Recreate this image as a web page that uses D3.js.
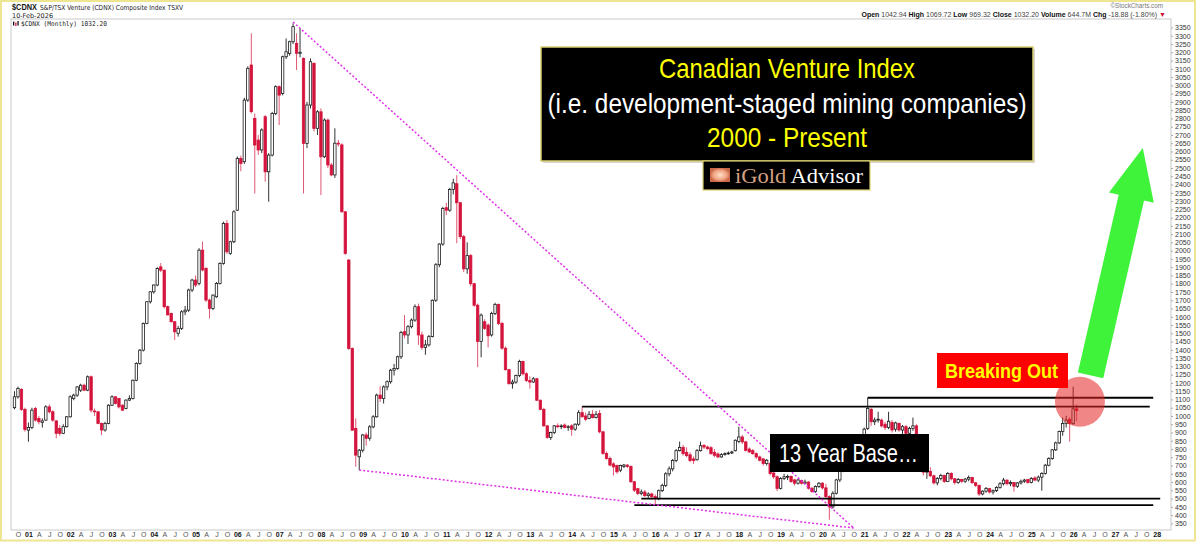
<!DOCTYPE html>
<html><head><meta charset="utf-8">
<script src="https://cdn.jsdelivr.net/npm/d3@7"></script>
<style>
html,body{margin:0;padding:0;background:#fff;}
svg{display:block;}
</style></head><body>
<svg id="c" width="1199" height="542" font-family="Liberation Sans, Arial, sans-serif"></svg>
<script>
// ---------- DATA: monthly candles [open, high, low, close], first candle = Sep 2000 ----------
const FIRST_YEAR = 2000, FIRST_MONTH = 8; // 0-based month (Sep)
const Y2000 = [[1050,1150,1040,1116],[1116,1177,1105,1166],[1160,1168,1030,1040],[1040,1050,905,918]];
const Y2001 = [[914,960,844,930],[930,1050,920,1035],[1045,1055,965,975],[985,1000,950,965],[960,985,930,970],[975,1065,970,1055],[1055,1070,1015,1025],[1025,1035,965,975],[970,975,865,895],[925,945,880,895],[895,950,890,935],[935,1000,930,995]];
const Y2002 = [[995,1125,990,1116],[1106,1135,1095,1126],[1126,1180,1115,1176],[1156,1195,1145,1186],[1186,1195,1150,1156],[1156,1245,1150,1237],[1237,1245,1020,1035],[1030,1045,1000,1025],[1025,1030,950,955],[955,960,884,915],[915,965,905,955],[955,1070,950,1065]];
const Y2003 = [[1065,1125,1060,1116],[1116,1120,1070,1076],[1106,1110,1045,1055],[1065,1070,1030,1035],[1045,1100,1040,1096],[1096,1125,1090,1106],[1106,1220,1100,1216],[1216,1325,1210,1318],[1318,1405,1310,1398],[1398,1565,1390,1560],[1560,1695,1555,1691],[1691,1755,1680,1751]];
const Y2004 = [[1751,1795,1740,1792],[1792,1900,1785,1892],[1902,1925,1870,1882],[1882,1885,1650,1661],[1661,1668,1610,1611],[1620,1625,1565,1570],[1570,1575,1459,1509],[1500,1545,1480,1530],[1530,1640,1520,1630],[1630,1665,1610,1640],[1640,1770,1630,1762],[1762,1830,1750,1822]];
const Y2005 = [[1822,1850,1780,1792],[1802,2015,1790,2003],[2003,2054,1875,1883],[1893,1900,1690,1701],[1701,1710,1590,1651],[1650,1735,1640,1731],[1721,1810,1715,1802],[1802,1930,1795,1923],[1923,2175,1915,2165],[2165,2185,1980,1993],[1983,2060,1975,2054],[2054,2245,2045,2235]];
const Y2006 = [[2245,2570,2240,2558],[2558,2575,2480,2528],[2538,2925,2525,2911],[2911,3115,2900,3103],[3123,3315,2830,2841],[2800,2830,2346,2639],[2669,2700,2580,2609],[2609,2740,2590,2730],[2810,2820,2417,2477],[2477,2590,2296,2578],[2578,2840,2570,2830],[2830,3000,2820,2992]];
const Y2007 = [[2992,3000,2760,2941],[2951,3180,2940,3173],[3173,3284,3160,3203],[3193,3270,3180,3264],[3264,3375,3250,3355],[3254,3315,3093,3194],[3194,3345,3170,3200],[3163,3170,2346,2649],[2649,2900,2620,2881],[2881,3163,2860,3143],[3133,3140,2720,2740],[2740,2850,2700,2840]];
const Y2008 = [[2840,2860,2336,2568],[2568,2800,2560,2790],[2790,2800,2500,2518],[2518,2530,2450,2458],[2458,2740,2440,2650],[2650,2670,2630,2645],[2640,2650,2230,2235],[2235,2240,1975,1983],[1943,1950,1400,1408],[1408,1415,910,914],[924,985,693,763],[753,800,672,793]];
const Y2009 = [[793,890,780,885],[885,900,820,865],[865,945,850,934],[934,1005,925,995],[995,1135,990,1126],[1126,1180,1085,1105],[1105,1185,1075,1176],[1176,1215,1155,1207],[1207,1285,1195,1277],[1277,1315,1245,1287],[1287,1365,1280,1358],[1358,1515,1345,1505]];
const Y2010 = [[1510,1610,1470,1490],[1490,1550,1435,1540],[1540,1590,1530,1580],[1580,1675,1570,1661],[1661,1680,1430,1490],[1490,1510,1400,1415],[1415,1460,1370,1430],[1430,1490,1420,1480],[1480,1705,1475,1700],[1700,1925,1690,1915],[1915,2045,1900,2040],[2040,2265,2030,2255]];
const Y2011 = [[2260,2290,2215,2245],[2245,2380,2235,2370],[2370,2435,2340,2410],[2405,2457,2045,2290],[2290,2295,2070,2085],[2085,2095,1870,1890],[1890,2050,1860,1970],[1970,1980,1785,1800],[1800,1805,1660,1670],[1670,1680,1295,1450],[1450,1620,1355,1610],[1570,1585,1520,1530]];
const Y2012 = [[1550,1560,1415,1485],[1490,1630,1480,1620],[1620,1685,1610,1675],[1675,1680,1550,1560],[1560,1570,1400,1410],[1410,1420,1275,1280],[1280,1285,1190,1195],[1195,1220,1165,1205],[1205,1250,1195,1245],[1245,1340,1235,1330],[1330,1335,1245,1255],[1255,1265,1205,1215]];
const Y2013 = [[1215,1240,1165,1205],[1205,1235,1200,1225],[1225,1230,1090,1095],[1095,1100,1035,1040],[1040,1050,935,940],[940,945,862,870],[870,905,855,900],[900,945,890,940],[940,955,925,935],[935,950,920,940],[945,955,925,930],[930,945,910,935]];
const Y2014 = [[940,950,880,920],[920,955,910,950],[950,1035,940,1020],[1020,1058,990,995],[1000,1020,970,980],[985,1030,980,1010],[1010,1035,985,990],[990,1030,985,1010],[1015,1035,895,904],[904,910,765,773],[773,785,735,743],[743,755,695,703]];
const Y2015 = [[710,720,640,692],[700,705,650,662],[672,705,660,700],[695,710,685,703],[703,708,685,695],[695,700,595,602],[602,607,540,551],[560,565,520,531],[531,555,520,540],[540,552,510,518],[518,538,505,528],[528,536,495,512]];
const Y2016 = [[512,525,462,500],[500,555,490,548],[548,590,540,580],[580,660,570,650],[650,695,635,680],[680,740,665,730],[730,800,720,790],[790,845,785,810],[810,825,760,772],[780,810,750,760],[765,780,720,730],[740,755,710,730]];
const Y2017 = [[735,800,730,790],[790,845,785,820],[822,830,800,812],[812,820,795,802],[808,817,765,772],[780,800,750,762],[770,780,745,752],[752,775,748,766],[766,780,760,772],[772,785,765,776],[776,790,770,782],[790,858,785,853]];
const Y2018 = [[845,935,835,873],[873,885,830,843],[843,850,785,792],[800,810,775,782],[790,800,765,772],[772,780,740,752],[752,760,725,732],[740,746,700,712],[712,740,700,732],[713,720,640,652],[655,668,620,632],[632,640,545,562]];
const Y2019 = [[562,630,555,622],[622,650,612,632],[630,645,612,634],[634,640,595,603],[613,620,580,593],[593,620,585,613],[610,615,585,593],[593,615,585,600],[600,605,555,563],[563,570,535,543],[543,580,535,573],[573,600,565,593]];
const Y2020 = [[593,600,555,565],[565,590,500,512],[512,520,372,450],[450,545,440,532],[532,620,525,613],[613,680,600,670],[670,745,660,735],[735,800,725,790],[790,795,730,760],[760,790,740,755],[755,810,735,800],[800,880,795,870]];
const Y2021 = [[870,930,850,920],[925,1110,915,1045],[1040,1050,940,965],[965,990,945,975],[975,1025,960,980],[975,985,930,940],[950,965,915,930],[930,1025,920,968],[960,975,900,915],[920,965,905,958],[955,960,905,915],[915,945,880,935]];
const Y2022 = [[935,945,870,895],[895,935,870,925],[925,990,910,940],[940,950,840,850],[850,860,730,760],[760,765,640,660],[660,680,620,665],[665,690,630,638],[638,645,585,595],[595,630,580,622],[622,650,610,640],[640,645,595,603]];
const Y2023 = [[603,660,600,652],[652,660,610,620],[620,625,585,598],[598,625,590,615],[615,620,595,605],[605,625,595,618],[618,640,605,628],[628,632,590,596],[596,600,570,580],[580,585,515,528],[528,550,520,545],[545,570,535,562]];
const Y2024 = [[560,565,530,540],[540,555,525,548],[548,575,540,568],[568,600,560,590],[590,625,580,612],[612,615,580,590],[590,610,575,598],[598,600,542,575],[575,600,565,595],[595,615,585,605],[605,620,595,612],[615,620,590,598]];
const Y2025 = [[598,630,592,622],[625,635,605,612],[612,640,600,630],[630,660,548,652],[652,710,645,702],[702,750,695,742],[742,800,735,795],[795,845,788,837],[837,912,830,906],[906,990,880,955],[955,1000,930,975],[980,992,845,955]];
const Y2026 = [[955,1177,945,1043],[1042.94,1069.72,969.32,1032.20]];

// axis labels
const Y_TICK_VALUES = [350,400,450,500,550,600,650,700,750,800,850,900,950,1000,1050,1100,1150,1200,1250,1300,1350,1400,1450,1500,1550,1600,1650,1700,1750,1800,1850,1900,1950,2000,2050,2100,2150,2200,2250,2300,2350,2400,2450,2500,2550,2600,2650,2700,2750,2800,2850,2900,2950,3000,3050,3100,3150,3200,3250,3300,3350];
const QUARTER_LETTERS = {3:"A", 6:"J", 9:"O"};
const X_FIRST_TICK = "2000-10", X_LAST_TICK = "2028-01";

// annotation levels (value, from month, to month)
const LEVELS = [
  {v:1110, from:"2021-02", to:"2027-12"},
  {v:1056, from:"2014-04", to:"2027-11"},
  {v:500,  from:"2015-09", to:"2028-02"},
  {v:461,  from:"2015-07", to:"2027-12"}
];
const TRENDLINES = [
  [{m:"2007-05", v:3383},{m:"2020-10", v:322}],
  [{m:"2008-12", v:673},{m:"2020-10", v:322}]
];
const BREAKOUT = {m:"2026-02", v:1086};
const ARROW = [{m:"2026-06", v:1245},{m:"2027-09", v:2621}];

// ---------- helpers ----------
const mIndex = s => { const [yy,mm] = s.split("-").map(Number); return (yy-FIRST_YEAR)*12 + (mm-1) - FIRST_MONTH; };
const YEARS = [Y2000,Y2001,Y2002,Y2003,Y2004,Y2005,Y2006,Y2007,Y2008,Y2009,Y2010,Y2011,Y2012,Y2013,Y2014,Y2015,Y2016,Y2017,Y2018,Y2019,Y2020,Y2021,Y2022,Y2023,Y2024,Y2025,Y2026];
const candles = YEARS.flat().map((d,i)=>({i, o:d[0], h:d[1], l:d[2], c:d[3]}));

const svg = d3.select("#c");
const L = 11, R = 1171, T = 19, B = 530;
const x = d3.scaleLinear().domain([-1, 332.1]).range([L, R]);
const y = d3.scaleLinear().domain([350, 3350]).range([523.4, 27.5]);
const SANS = "Liberation Sans, Arial, sans-serif";

// outer frame
svg.append("rect").attr("x",1).attr("y",1).attr("width",1194).attr("height",539.5)
  .attr("fill","#fff").attr("stroke","#eee593").attr("stroke-width",2);
// plot frame
svg.append("rect").attr("x",L).attr("y",T).attr("width",R-L).attr("height",B-T)
  .attr("fill","#fff").attr("stroke","#c9c9c9").attr("stroke-width",1);

// header
const hdr = svg.append("g");
hdr.append("text").attr("x",12).attr("y",10).attr("font-size",8.6).attr("font-weight","bold").attr("fill","#111")
  .attr("textLength",25).attr("lengthAdjust","spacingAndGlyphs").text("$CDNX");
hdr.append("text").attr("x",40).attr("y",10).attr("font-size",6.8).attr("fill","#222").attr("font-family","DejaVu Sans, sans-serif")
  .attr("textLength",143).attr("lengthAdjust","spacingAndGlyphs").text("S&P/TSX Venture (CDNX) Composite Index  TSXV");
hdr.append("text").attr("x",12).attr("y",17.5).attr("font-size",6.5).attr("fill","#222").attr("font-family","DejaVu Sans, sans-serif").text("10-Feb-2026");
hdr.append("text").attr("x",1163).attr("y",8).attr("text-anchor","end").attr("font-size",6.3).attr("fill","#777").text("\u00A9StockCharts.com");
const q = hdr.append("text").attr("x",1166).attr("y",17).attr("text-anchor","end").attr("font-size",7).attr("fill","#222");
[["Open ",1],["1042.94 ",0],["High ",1],["1069.72 ",0],["Low ",1],["969.32 ",0],["Close ",1],["1032.20 ",0],["Volume ",1],["644.7M ",0],["Chg ",1],["-18.88 (-1.80%) ",0]]
  .forEach(([t,b])=>q.append("tspan").attr("font-weight",b?"bold":"normal").attr("fill",b?"#111":"#444").text(t));
q.append("tspan").attr("fill","#d01030").text("\u25BC");

// legend label inside plot
const lg = svg.append("g");
lg.append("rect").attr("x",13).attr("y",21.5).attr("width",1.3).attr("height",4).attr("fill","#111");
lg.append("rect").attr("x",15.2).attr("y",22.5).attr("width",1.3).attr("height",3.5).attr("fill","#d4143c");
lg.append("rect").attr("x",17.4).attr("y",21).attr("width",1.3).attr("height",4.5).attr("fill","#111");
lg.append("text").attr("x",21).attr("y",26.3).attr("font-size",6.6).attr("fill","#222").attr("font-family","DejaVu Sans Mono, monospace")
  .attr("textLength",86).attr("lengthAdjust","spacingAndGlyphs").text("$CDNX (Monthly) 1032.20");

// y axis
const ya = svg.append("g").attr("transform",`translate(${R},0)`)
  .call(d3.axisRight(y).tickValues(Y_TICK_VALUES).tickSize(2).tickPadding(2).tickFormat(d3.format("d")));
ya.select(".domain").remove();
ya.selectAll("line").attr("stroke","#aaa");
ya.selectAll("text").attr("font-size",7).attr("fill","#333").attr("font-family",SANS);

// x axis
const xTicks = d3.range(mIndex(X_FIRST_TICK), mIndex(X_LAST_TICK)+1, 3);
const monthOf = k => (FIRST_MONTH + k) % 12;
const yearOf = k => FIRST_YEAR + Math.floor((FIRST_MONTH + k)/12);
const xa = svg.append("g").attr("transform",`translate(0,${B})`)
  .call(d3.axisBottom(x).tickValues(xTicks).tickSize(0).tickPadding(2)
    .tickFormat(k => monthOf(k)===0 ? String(yearOf(k)%100).padStart(2,"0") : QUARTER_LETTERS[monthOf(k)]));
xa.select(".domain").remove();
xa.selectAll("text").attr("font-size",7).attr("font-family",SANS)
  .attr("font-weight",k=>monthOf(k)===0?"bold":"normal").attr("fill",k=>monthOf(k)===0?"#111":"#555");

// candles
const RED = "#d4143c", INK = "#1a1a1a";
const cg = svg.append("g");
const bw = 2.4;
cg.selectAll("line.w").data(candles).join("line").attr("class","w")
  .attr("x1",d=>x(d.i)).attr("x2",d=>x(d.i)).attr("y1",d=>y(d.h)).attr("y2",d=>y(d.l))
  .attr("stroke",d=>d.c<d.o?RED:INK).attr("stroke-width",0.9).attr("stroke-opacity",d=>d.c<d.o?0.8:1);
cg.selectAll("rect.b").data(candles).join("rect").attr("class","b")
  .attr("x",d=>x(d.i)-bw/2).attr("width",bw)
  .attr("y",d=>y(Math.max(d.o,d.c)))
  .attr("height",d=>Math.max(0.8, Math.abs(y(d.o)-y(d.c))))
  .attr("fill",d=>d.c<d.o?RED:"#fff")
  .attr("stroke",d=>d.c<d.o?RED:INK).attr("stroke-width",0.8);

// horizontal levels
svg.append("g").selectAll("line").data(LEVELS).join("line")
  .attr("x1",d=>x(mIndex(d.from))).attr("x2",d=>x(mIndex(d.to)))
  .attr("y1",d=>y(d.v)).attr("y2",d=>y(d.v))
  .attr("stroke","#000").attr("stroke-width",1.8);

// trendlines
svg.append("g").selectAll("line").data(TRENDLINES).join("line")
  .attr("x1",d=>x(mIndex(d[0].m))).attr("y1",d=>y(d[0].v))
  .attr("x2",d=>x(mIndex(d[1].m))).attr("y2",d=>y(d[1].v))
  .attr("stroke","#e030e8").attr("stroke-width",1.5).attr("stroke-dasharray","2,2");

// title box
const tb = svg.append("g");
tb.append("rect").attr("x",543).attr("y",49).attr("width",492).attr("height",114).attr("fill","#888").attr("opacity",0.35);
tb.append("rect").attr("x",541).attr("y",47).attr("width",492).attr("height",114).attr("fill","#000").attr("stroke","#d8d070").attr("stroke-width",1.5);
const tfont = "Liberation Sans Narrow, Liberation Sans, Arial, sans-serif";
[["Canadian Venture Index","#ffff00",78,256],["(i.e. development-staged mining companies)","#ffffff",113,479],["2000 - Present","#ffff00",147,160]]
.forEach(([t,col,yy,w])=>tb.append("text").attr("x",787).attr("y",yy).attr("text-anchor","middle")
  .attr("font-size",28).attr("font-family",tfont).attr("fill",col)
  .attr("textLength",w).attr("lengthAdjust","spacingAndGlyphs").text(t));

// logo
const defs = svg.append("defs");
const rg = defs.append("radialGradient").attr("id","lg");
rg.append("stop").attr("offset","0%").attr("stop-color","#ffe0c8");
rg.append("stop").attr("offset","70%").attr("stop-color","#f0a080");
rg.append("stop").attr("offset","100%").attr("stop-color","#c86848");
const lgb = svg.append("g");
lgb.append("rect").attr("x",703).attr("y",161).attr("width",167).attr("height",29).attr("fill","#000").attr("stroke","#d8d070").attr("stroke-width",1.2);
lgb.append("rect").attr("x",710).attr("y",168).attr("width",20).attr("height",14).attr("fill","url(#lg)");
const lt = lgb.append("text").attr("x",735).attr("y",183).attr("font-size",21).attr("font-family","Liberation Serif, DejaVu Serif, Times New Roman, serif")
  .attr("textLength",128).attr("lengthAdjust","spacingAndGlyphs");
lt.append("tspan").attr("fill","#d4a080").text("iGold");
lt.append("tspan").attr("fill","#fff").text(" Advisor");

// 13 year base box
svg.append("rect").attr("x",770).attr("y",434).attr("width",159).attr("height",38).attr("fill","#000");
svg.append("text").attr("x",779).attr("y",462).attr("font-size",25).attr("fill","#fff").attr("font-family",SANS)
  .attr("textLength",139).attr("lengthAdjust","spacingAndGlyphs").text("13 Year Base\u2026");

// breakout circle
svg.append("circle").attr("cx",x(mIndex(BREAKOUT.m))+3.3).attr("cy",y(BREAKOUT.v)).attr("r",25)
  .attr("fill","#e52222").attr("fill-opacity",0.55);

// breaking out box
svg.append("rect").attr("x",937).attr("y",353).attr("width",131).attr("height",35).attr("fill","#ff0000");
svg.append("text").attr("x",945).attr("y",378).attr("font-size",20).attr("font-weight","bold").attr("fill","#ffff00").attr("font-family",SANS)
  .attr("textLength",113).attr("lengthAdjust","spacingAndGlyphs").text("Breaking Out");

// green arrow
const p0 = [x(mIndex(ARROW[0].m)), y(ARROW[0].v)], p1 = [x(mIndex(ARROW[1].m)), y(ARROW[1].v)];
const dx = p1[0]-p0[0], dy = p1[1]-p0[1], len = Math.hypot(dx,dy);
const u = [dx/len, dy/len], n = [-u[1], u[0]];
const w = 13, W = 23, Lh = 51;
const hb = [p1[0]-u[0]*Lh, p1[1]-u[1]*Lh];
const pt = (p,s) => [p[0]+n[0]*s, p[1]+n[1]*s];
const poly = [pt(p0,w), pt(hb,w), pt(hb,W), p1, pt(hb,-W), pt(hb,-w), pt(p0,-w)];
svg.append("polygon").attr("points",poly.map(p=>p.join(",")).join(" ")).attr("fill","#3ff23a");
</script>
</body></html>
